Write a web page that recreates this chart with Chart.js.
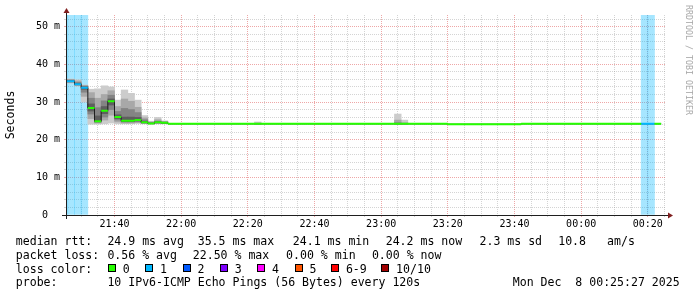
<!DOCTYPE html>
<html>
<head>
<meta charset="utf-8">
<script src="https://cdn.jsdelivr.net/npm/chart.js@4"></script>
<style>
  html, body { margin: 0; padding: 0; background: #ffffff; }
  #wrap { position: relative; width: 697px; height: 297px; overflow: hidden; background: #ffffff; }
  #c { position: absolute; left: 0; top: 0; width: 697px; height: 297px; }
  .t { position: absolute; font-family: 'DejaVu Sans Mono', monospace; font-size: 11.55px; line-height: 14px; white-space: pre; color: #000; }
  .box { position: absolute; width: 6px; height: 6px; border: 1px solid #000; }
  #wm { position: absolute; left: 692.5px; top: 5px; transform-origin: 0 0; transform: rotate(90deg);
        font-family: 'DejaVu Sans Mono', monospace; font-size: 8.3px; line-height: 9.7px; white-space: pre; color: #a8a8a8; }
</style>
</head>
<body>
<div id="wrap">
  <canvas id="c" width="697" height="297"></canvas>
  <div id="legend"></div>
  <div id="wm">RRDTOOL / TOBI OETIKER</div>
</div>
<script>
// ---------------- data ----------------
const X_START = '21:25:27';
const X_END = '00:25:27';
const NOW_STAMP = 'Mon Dec  8 00:25:27 2025';
const Y_MAX = 53.1;               // ms, top of graph
const STEP_MIN = 2;               // minutes per RRD step
const FIRST_STEP_END = '21:26';

// median RTT (ms) per 2-minute step, step ends 21:26 ... 00:24
const medianRtt = [
  35.5, 35.5, 34.7, 33.8, 28.4, 24.9, 27.7, 30.2, 26.0, 25.0,
  25.0, 25.2, 24.6, 24.3, 24.6, 24.5, 24.2, 24.2, 24.2, 24.2,
  24.2, 24.2, 24.2, 24.2, 24.2, 24.2, 24.2, 24.2, 24.2, 24.2,
  24.2, 24.2, 24.2, 24.2, 24.2, 24.2, 24.2, 24.2, 24.2, 24.2,
  24.2, 24.2, 24.2, 24.2, 24.2, 24.2, 24.2, 24.2, 24.2, 24.2,
  24.2, 24.2, 24.2, 24.2, 24.2, 24.2, 24.2, 24.2, 24.1, 24.1,
  24.1, 24.1, 24.1, 24.1, 24.1, 24.1, 24.1, 24.1, 24.1, 24.2,
  24.2, 24.2, 24.2, 24.2, 24.2, 24.2, 24.2, 24.2, 24.2, 24.2,
  24.2, 24.2, 24.2, 24.2, 24.2, 24.2, 24.2, 24.2, 24.2, 24.2
];

// steps with packet loss (lost pings out of 10)
const lossStepEnds = ['21:26', '21:28', '21:30', '21:32', '00:20', '00:22'];
const lossPings    = [1, 1, 1, 1, 1, 1];

// smoke: sorted ping spreads (ms) for the steps where it is visible
const smokeStepEnds = ['21:26','21:28','21:30','21:32','21:34','21:36','21:38','21:40','21:42','21:44',
                       '21:46','21:48','21:50','21:52','21:54','21:56','22:24','23:06','23:08'];
const smokeLo1 = [35.0,35.0,34.2,30.0,24.1,24.1,24.2,24.4,24.2,24.2,24.2,24.3,24.2,24.2,24.2,24.2,24.2,24.2,24.2];
const smokeLo2 = [35.2,35.2,34.4,31.5,25.6,24.4,25.2,26.5,24.7,24.4,24.4,24.5,24.3,24.2,24.3,24.3,24.2,24.2,24.2];
const smokeLo3 = [35.3,35.3,34.5,32.6,26.8,24.6,26.0,28.0,25.2,24.7,24.7,24.8,24.4,24.2,24.4,24.3,24.2,24.2,24.2];
const smokeLo4 = [35.4,35.4,34.6,33.4,27.6,24.8,26.9,29.2,25.6,24.9,24.9,25.0,24.5,24.3,24.5,24.4,24.2,24.2,24.2];
const smokeHi4 = [35.6,35.6,34.9,34.0,29.5,26.3,28.8,30.8,26.6,26.0,26.0,25.9,24.9,24.4,24.7,24.6,24.3,24.3,24.3];
const smokeHi3 = [35.8,35.8,35.2,34.2,31.0,28.5,30.3,31.8,27.5,28.3,28.0,27.2,25.3,24.5,24.9,24.7,24.3,24.5,24.3];
const smokeHi2 = [36.0,36.0,35.6,34.4,32.5,31.0,32.0,33.0,28.8,30.8,30.2,28.6,25.8,24.7,25.3,24.8,24.4,25.2,24.5];
const smokeHi1 = [36.1,36.1,35.9,34.5,33.4,33.5,34.3,34.0,30.5,33.2,32.3,30.5,26.4,24.9,25.9,25.0,24.7,26.8,25.2];

// legend texts
const rttLabel = 'median rtt:';
const rttStats = ['24.9 ms avg', '35.5 ms max', '24.1 ms min', '24.2 ms now', '2.3 ms sd', '10.8', 'am/s'];
const lossLabel = 'packet loss:';
const lossStats = ['0.56 % avg', '22.50 % max', '0.00 % min', '0.00 % now'];
const colorLabel = 'loss color:';
const lossLegendLabels = ['0', '1', '2', '3', '4', '5', '6-9', '10/10'];
const lossLegendColors = ['#26ff00', '#00b8ff', '#0059ff', '#7e00ff', '#ff00ff', '#ff5500', '#ff0000', '#a10000'];
const probeLabel = 'probe:';
const probeText = '10 IPv6-ICMP Echo Pings (56 Bytes) every 120s';
const yTitle = 'Seconds';

// ---------------- helpers ----------------
function toMin(s) {
  const p = s.split(':').map(Number);
  let t = p[0] * 60 + p[1] + (p[2] || 0) / 60;
  if (p[0] < 12) t += 1440;
  return t;
}
const xMin = toMin(X_START), xMax = toMin(X_END);
const firstEnd = toMin(FIRST_STEP_END);
const stepEnd = i => firstEnd + i * STEP_MIN;
const lossAt = new Map(lossStepEnds.map((t, i) => [toMin(t), lossPings[i]]));
function lossColorIndex(l) { return l <= 5 ? l : (l < 10 ? 6 : 7); }
function hexA(hex, a) {
  const n = parseInt(hex.slice(1), 16);
  return `rgba(${(n >> 16) & 255},${(n >> 8) & 255},${n & 255},${a})`;
}

// colored median segments (horizontal only), one dataset per loss colour
const medianSets = [];
lossLegendColors.forEach((col, ci) => {
  const pts = [];
  medianRtt.forEach((v, i) => {
    const e = stepEnd(i);
    const l = lossAt.get(e) || 0;
    if (lossColorIndex(l) === ci) pts.push({x: e - STEP_MIN, y: v}, {x: e, y: v}, {x: e, y: null});
  });
  if (pts.length) medianSets.push({
    type: 'line', data: pts, borderColor: col, borderWidth: 2, pointRadius: 0,
    spanGaps: false, fill: false, order: 0
  });
});

const stepPts = medianRtt.map((v, i) => ({x: stepEnd(i) - STEP_MIN, y: v}));
stepPts.push({x: stepEnd(medianRtt.length - 1), y: medianRtt[medianRtt.length - 1]});

function smokeSet(lo, hi, color, order) {
  return {
    type: 'bar', grouped: false, order,
    data: smokeStepEnds.map((t, i) => ({x: toMin(t) - STEP_MIN / 2, y: [lo[i], hi[i]]})),
    backgroundColor: color, borderWidth: 0, barPercentage: 1, categoryPercentage: 1
  };
}

const datasets = [
  ...medianSets,
  { type: 'line', data: stepPts, stepped: true, borderColor: '#202020', borderWidth: 1,
    pointRadius: 0, fill: false, order: 1 },
  smokeSet(smokeLo4, smokeHi4, '#5e5e5e', 2),
  smokeSet(smokeLo3, smokeHi3, '#848484', 3),
  smokeSet(smokeLo2, smokeHi2, '#a8a8a8', 4),
  smokeSet(smokeLo1, smokeHi1, '#cccccc', 5),
  { type: 'bar', grouped: false, order: 6,
    data: lossStepEnds.map(t => ({x: toMin(t) - STEP_MIN / 2, y: [0, Y_MAX]})),
    backgroundColor: ctx => hexA(lossLegendColors[lossColorIndex(lossPings[ctx.dataIndex])], 0.35),
    borderWidth: 0, barPercentage: 1, categoryPercentage: 1 }
];

const MINOR = 'rgba(143,143,143,0.38)';
const MAJOR = 'rgba(222,79,79,0.5)';
const MONO = "'DejaVu Sans Mono', monospace";
const pad2 = n => String(n).padStart(2, '0');
const fmtTime = v => { const m = Math.round(v); return pad2(Math.floor(m / 60) % 24) + ':' + pad2(m % 60); };

const rrdAxes = {
  id: 'rrdAxes',
  afterDatasetsDraw(chart) {
    const {ctx, chartArea: a} = chart;
    const xl = a.left + 0.5, yb = a.bottom + 0.5;
    ctx.save();
    ctx.strokeStyle = '#1f1f1f';
    ctx.lineWidth = 1;
    ctx.beginPath();
    ctx.moveTo(a.left - 4, yb); ctx.lineTo(a.right + 4, yb);
    ctx.moveTo(xl, a.bottom + 4); ctx.lineTo(xl, a.top - 4);
    ctx.stroke();
    ctx.fillStyle = '#801f1f';
    ctx.beginPath();
    ctx.moveTo(a.right + 2, yb - 3); ctx.lineTo(a.right + 2, yb + 3); ctx.lineTo(a.right + 7, yb); ctx.closePath();
    ctx.fill();
    ctx.beginPath();
    ctx.moveTo(xl - 3, a.top - 2); ctx.lineTo(xl + 3, a.top - 2); ctx.lineTo(xl, a.top - 7); ctx.closePath();
    ctx.fill();
    ctx.restore();
  }
};

Chart.defaults.font.family = MONO;
Chart.defaults.font.size = 10;
Chart.defaults.color = '#000';

new Chart(document.getElementById('c'), {
  type: 'bar',
  data: { datasets },
  plugins: [rrdAxes],
  options: {
    responsive: false,
    animation: false,
    events: [],
    layout: { padding: { left: 0, top: 15, right: 31, bottom: 62 } },
    plugins: { legend: { display: false }, tooltip: { enabled: false } },
    scales: {
      x: {
        type: 'linear', min: xMin, max: xMax, offset: false,
        afterBuildTicks: s => {
          const t = [];
          for (let v = Math.ceil(xMin / 5) * 5; v <= xMax; v += 5) t.push({value: v});
          s.ticks = t;
        },
        afterFit: s => { s.height = 20; },
        grid: {
          offset: false, lineWidth: 1, drawTicks: true, tickLength: 2,
          color: c => (c.tick && Math.round(c.tick.value) % 20 === 0) ? MAJOR : MINOR,
          tickColor: c => (c.tick && Math.round(c.tick.value) % 20 === 0) ? MAJOR : MINOR
        },
        border: { display: false, dash: [1, 1] },
        ticks: {
          autoSkip: false, maxRotation: 0, minRotation: 0, padding: 1, color: '#000',
          font: { family: MONO, size: 10 },
          callback: v => (Math.round(v) % 20 === 0) ? fmtTime(v) : ''
        }
      },
      y: {
        type: 'linear', min: 0, max: Y_MAX,
        afterBuildTicks: s => {
          const t = [];
          for (let v = 0; v <= Y_MAX; v += 2) t.push({value: v});
          s.ticks = t;
        },
        afterFit: s => { s.width = 66; },
        grid: {
          lineWidth: 1, drawTicks: true, tickLength: 2,
          color: c => (c.tick && Math.round(c.tick.value) % 10 === 0) ? MAJOR : MINOR,
          tickColor: c => (c.tick && Math.round(c.tick.value) % 10 === 0) ? MAJOR : MINOR
        },
        border: { display: false, dash: [1, 1] },
        title: { display: true, text: yTitle, color: '#000', font: { family: MONO, size: 11.55 }, padding: 4 },
        ticks: {
          autoSkip: false, padding: 4, color: '#000', font: { family: MONO, size: 10 },
          callback: v => { const r = Math.round(v); if (r % 10) return ''; return r === 0 ? '0  ' : r + ' m'; }
        }
      }
    }
  }
});

// ---------------- text legend (HTML) ----------------
const legend = document.getElementById('legend');
const BASE = [245.3, 259.3, 272.7, 286.3];
const ASC = 11.0;
function addText(txt, x, row) {
  const d = document.createElement('div');
  d.className = 't';
  d.textContent = txt;
  d.style.left = (x - 0.6) + 'px';
  d.style.top = (BASE[row] - ASC) + 'px';
  legend.appendChild(d);
}
const LX = 16.4;
addText(rttLabel, LX, 0);
const rttX = [108, 198.3, 293.4, 386.3, 480.1, 558.8, 607.7];
rttStats.forEach((s, i) => addText(s, rttX[i], 0));
addText(lossLabel, LX, 1);
const lossX = [108, 193.4, 286.7, 372.5];
lossStats.forEach((s, i) => addText(s, lossX[i], 1));
addText(colorLabel, LX, 2);
const boxX = [108, 145.4, 182.7, 220, 257.4, 294.7, 331.2, 381.4];
lossLegendLabels.forEach((lab, i) => {
  const b = document.createElement('div');
  b.className = 'box';
  b.style.left = Math.round(boxX[i]) + 'px';
  b.style.top = '264px';
  b.style.background = lossLegendColors[i];
  legend.appendChild(b);
  addText(lab, boxX[i] + 15.3, 2);
});
addText(probeLabel, LX, 3);
addText(probeText, 108, 3);
addText(NOW_STAMP, 513.4, 3);
</script>
</body>
</html>
